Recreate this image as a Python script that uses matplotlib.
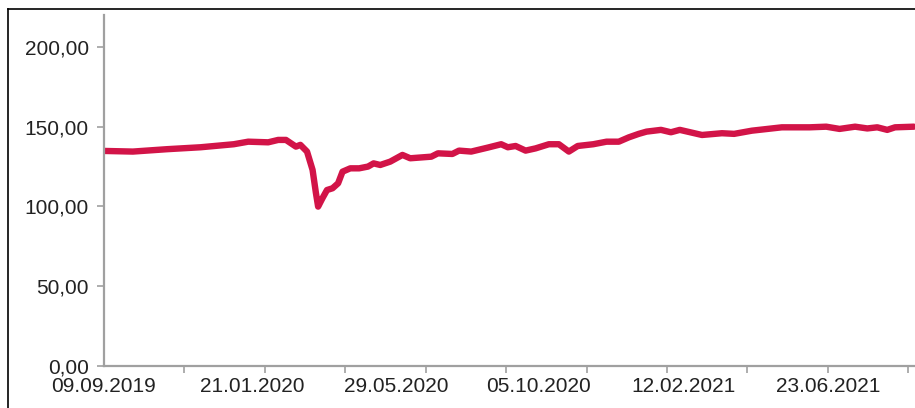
import numpy as np
import pandas as pd
import matplotlib
matplotlib.use('Agg')
import matplotlib.pyplot as plt
import matplotlib.dates as mdates
from matplotlib.lines import Line2D

# Werte
dates = ['2019-09-09', '2019-10-05', '2019-11-05', '2019-12-05', '2020-01-04',
         '2020-01-17', '2020-02-04', '2020-02-13', '2020-02-20', '2020-02-29',
         '2020-03-04', '2020-03-10', '2020-03-15', '2020-03-18', '2020-03-20',
         '2020-03-24', '2020-03-28', '2020-04-02', '2020-04-07', '2020-04-11',
         '2020-04-18', '2020-04-26', '2020-05-04', '2020-05-09', '2020-05-15',
         '2020-05-24', '2020-06-04', '2020-06-11', '2020-06-30', '2020-07-06',
         '2020-07-19', '2020-07-25', '2020-08-05', '2020-08-20', '2020-09-01',
         '2020-09-07', '2020-09-14', '2020-09-23', '2020-10-02', '2020-10-14',
         '2020-10-23', '2020-11-01', '2020-11-09', '2020-11-23', '2020-12-05',
         '2020-12-16', '2020-12-25', '2021-01-03', '2021-01-10', '2021-01-23',
         '2021-02-01', '2021-02-09', '2021-03-01', '2021-03-19', '2021-03-30',
         '2021-04-15', '2021-05-12', '2021-06-06', '2021-06-21', '2021-07-03',
         '2021-07-17', '2021-07-28', '2021-08-06', '2021-08-15', '2021-08-22',
         '2021-09-08']
values = [134.8, 134.4, 135.9, 137.1, 139.0,
          140.6, 140.2, 141.7, 141.7, 137.5,
          138.6, 134.4, 122.9, 108.5, 99.9,
          105.3, 110.3, 111.4, 114.5, 121.8,
          123.9, 123.9, 125.0, 127.0, 126.0,
          128.1, 132.3, 130.2, 131.2, 133.3,
          132.9, 135.0, 134.4, 136.9, 139.0,
          137.1, 137.9, 135.0, 136.4, 139.0,
          139.0, 134.4, 137.9, 139.0, 140.6,
          140.6, 143.3, 145.5, 146.9, 148.0,
          146.5, 148.0, 144.8, 145.9, 145.5,
          147.5, 149.6, 149.6, 150.0, 148.6,
          150.0, 148.9, 149.6, 148.0, 149.6,
          150.0]

tick_labels = ['09.09.2019', '21.01.2020', '29.05.2020',
               '05.10.2020', '12.02.2021', '23.06.2021']
y_ticks = [0, 50, 100, 150, 200]

plt.rcParams['font.family'] = ['Liberation Sans', 'DejaVu Sans']

x = pd.to_datetime(dates)
start = pd.Timestamp('2019-09-09')
end = pd.Timestamp('2021-09-09')

fig = plt.figure(figsize=(9.15, 4.08), dpi=100)
ax = fig.add_axes([104/915, 42/408, 811/915, 351/408])

ax.plot(x, values, color='#D21448', lw=4.6, solid_joinstyle='round',
        solid_capstyle='round')

ax.set_xlim(start, end)
ax.set_ylim(0, 220)

grau = '#A0A0A0'
for s in ['top', 'right']:
    ax.spines[s].set_visible(False)
for s in ['left', 'bottom']:
    ax.spines[s].set_color(grau)
    ax.spines[s].set_linewidth(1.6)

ax.set_yticks(y_ticks)
ax.set_yticklabels([f'{v:.2f}'.replace('.', ',') for v in y_ticks])
ax.tick_params(axis='y', length=5, width=1.2, color=grau, pad=6,
               labelsize=15, labelcolor='#222222')

# Beschriftungen an den Datumswerten, Teilstriche im festen Abstand
ax.set_xticks(pd.to_datetime(tick_labels, format='%d.%m.%Y'))
ax.set_xticklabels(tick_labels)
ax.tick_params(axis='x', which='major', length=0, pad=8,
               labelsize=15, labelcolor='#222222')
minor = [mdates.date2num(start) + k * 72.5 for k in range(11)]
ax.set_xticks(minor, minor=True)
ax.tick_params(axis='x', which='minor', length=5, width=1.2, color=grau)

# Rahmen des Ausschnitts (links und oben)
fig.add_artist(Line2D([8/915, 8/915], [0, 1 - 9/408], color='black', lw=1.2))
fig.add_artist(Line2D([8/915, 1], [1 - 9/408, 1 - 9/408], color='black', lw=1.2))

fig.savefig('out.png', dpi=100)
